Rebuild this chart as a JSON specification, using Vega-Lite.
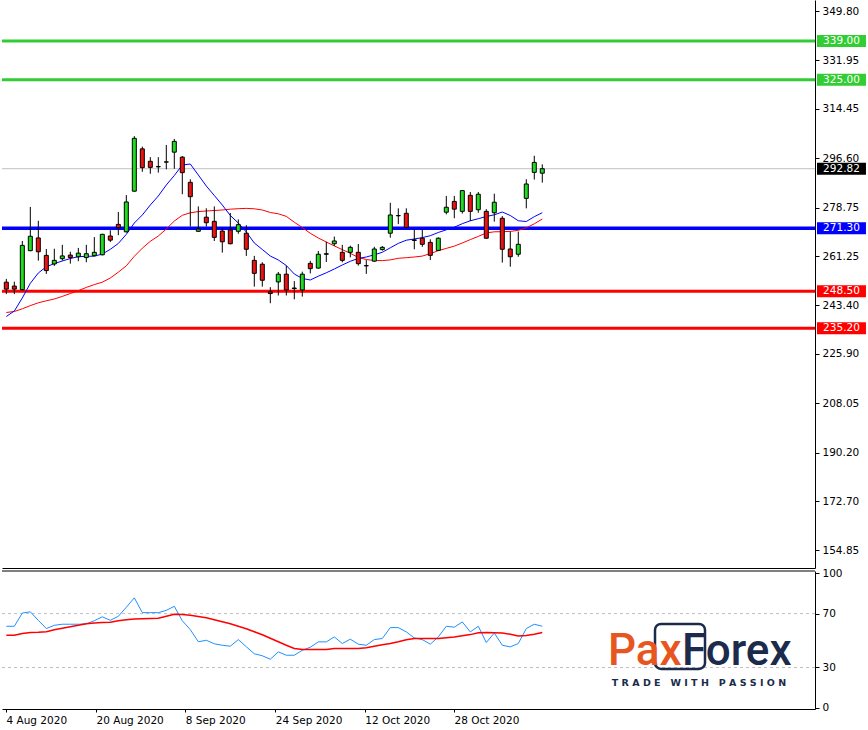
{
  "$schema": "https://vega.github.io/schema/vega-lite/v6.json",
  "padding": 0,
  "spacing": 0,
  "background": "white",
  "config": {
    "view": {"stroke": null},
    "axis": {"grid": false, "labelFont": "DejaVu Sans", "labelFontSize": 10.5, "labelColor": "#000000", "domainColor": "#000000", "tickColor": "#000000", "title": null}
  },
  "datasets": {
    "bars": [
      {"i":0,"date":"2020-08-04","o":251.8,"h":253.0,"l":247.5,"c":249.3,"ma_fast":239.4,"ma_slow":240.85,"rsi":60.6,"rsi_ma":53.9},
      {"i":1,"date":"2020-08-05","o":250.4,"h":252.0,"l":247.5,"c":249.3,"ma_fast":241.39,"ma_slow":241.21,"rsi":60.6,"rsi_ma":53.9},
      {"i":2,"date":"2020-08-06","o":249.1,"h":266.7,"l":248.8,"c":265.1,"ma_fast":246.09,"ma_slow":242.19,"rsi":70.4,"rsi_ma":55.2},
      {"i":3,"date":"2020-08-07","o":263.2,"h":279.0,"l":263.0,"c":268.4,"ma_fast":251.4,"ma_slow":243.34,"rsi":71.3,"rsi_ma":55.9},
      {"i":4,"date":"2020-08-10","o":267.8,"h":274.0,"l":259.6,"c":262.8,"ma_fast":255.13,"ma_slow":244.36,"rsi":65.0,"rsi_ma":56.1},
      {"i":5,"date":"2020-08-11","o":261.5,"h":263.8,"l":254.8,"c":256.0,"ma_fast":257.4,"ma_slow":245.08,"rsi":58.9,"rsi_ma":56.5},
      {"i":6,"date":"2020-08-12","o":258.4,"h":263.9,"l":257.7,"c":259.7,"ma_fast":258.52,"ma_slow":245.73,"rsi":61.3,"rsi_ma":58.0},
      {"i":7,"date":"2020-08-13","o":260.3,"h":265.3,"l":259.6,"c":261.3,"ma_fast":259.46,"ma_slow":246.67,"rsi":62.1,"rsi_ma":59.1},
      {"i":8,"date":"2020-08-14","o":261.6,"h":262.8,"l":258.5,"c":260.7,"ma_fast":260.37,"ma_slow":247.72,"rsi":62.1,"rsi_ma":60.2},
      {"i":9,"date":"2020-08-17","o":261.0,"h":264.2,"l":259.4,"c":262.3,"ma_fast":261.02,"ma_slow":248.73,"rsi":62.1,"rsi_ma":61.3},
      {"i":10,"date":"2020-08-18","o":260.7,"h":265.3,"l":259.0,"c":262.1,"ma_fast":261.16,"ma_slow":249.92,"rsi":62.4,"rsi_ma":62.4},
      {"i":11,"date":"2020-08-19","o":261.4,"h":268.1,"l":261.2,"c":262.6,"ma_fast":261.2,"ma_slow":250.93,"rsi":64.7,"rsi_ma":63.1},
      {"i":12,"date":"2020-08-20","o":261.7,"h":269.3,"l":261.5,"c":269.1,"ma_fast":261.99,"ma_slow":251.8,"rsi":67.6,"rsi_ma":63.3},
      {"i":13,"date":"2020-08-21","o":268.5,"h":270.6,"l":266.3,"c":267.0,"ma_fast":263.69,"ma_slow":253.32,"rsi":65.0,"rsi_ma":63.6},
      {"i":14,"date":"2020-08-24","o":272.7,"h":277.2,"l":268.8,"c":271.5,"ma_fast":265.79,"ma_slow":255.42,"rsi":68.0,"rsi_ma":64.7},
      {"i":15,"date":"2020-08-25","o":270.0,"h":283.3,"l":269.8,"c":280.8,"ma_fast":269.11,"ma_slow":257.73,"rsi":74.7,"rsi_ma":65.4},
      {"i":16,"date":"2020-08-26","o":284.7,"h":304.6,"l":284.5,"c":303.8,"ma_fast":273.2,"ma_slow":261.16,"rsi":81.7,"rsi_ma":65.9},
      {"i":17,"date":"2020-08-27","o":300.0,"h":300.8,"l":291.7,"c":293.2,"ma_fast":276.09,"ma_slow":264.09,"rsi":70.7,"rsi_ma":66.1},
      {"i":18,"date":"2020-08-28","o":295.5,"h":297.0,"l":291.0,"c":293.3,"ma_fast":279.7,"ma_slow":266.58,"rsi":70.7,"rsi_ma":66.4},
      {"i":19,"date":"2020-08-31","o":293.6,"h":297.0,"l":291.4,"c":293.5,"ma_fast":282.96,"ma_slow":268.5,"rsi":70.7,"rsi_ma":66.5},
      {"i":20,"date":"2020-09-01","o":295.2,"h":301.4,"l":292.6,"c":295.3,"ma_fast":286.93,"ma_slow":271.03,"rsi":72.4,"rsi_ma":68.0},
      {"i":21,"date":"2020-09-02","o":298.8,"h":303.6,"l":292.8,"c":302.7,"ma_fast":290.37,"ma_slow":273.92,"rsi":75.4,"rsi_ma":69.5},
      {"i":22,"date":"2020-09-03","o":297.0,"h":297.4,"l":283.6,"c":291.4,"ma_fast":294.16,"ma_slow":275.98,"rsi":64.7,"rsi_ma":69.3},
      {"i":23,"date":"2020-09-04","o":287.9,"h":289.0,"l":271.9,"c":282.7,"ma_fast":294.52,"ma_slow":276.89,"rsi":58.1,"rsi_ma":68.7},
      {"i":24,"date":"2020-09-08","o":270.2,"h":279.2,"l":270.0,"c":271.0,"ma_fast":290.55,"ma_slow":277.32,"rsi":49.1,"rsi_ma":67.8},
      {"i":25,"date":"2020-09-09","o":275.3,"h":278.5,"l":271.9,"c":273.3,"ma_fast":286.57,"ma_slow":277.54,"rsi":50.2,"rsi_ma":66.9},
      {"i":26,"date":"2020-09-10","o":273.8,"h":279.2,"l":266.7,"c":268.0,"ma_fast":283.14,"ma_slow":277.72,"rsi":47.6,"rsi_ma":65.4},
      {"i":27,"date":"2020-09-11","o":270.3,"h":271.3,"l":262.5,"c":266.4,"ma_fast":279.7,"ma_slow":277.9,"rsi":46.5,"rsi_ma":63.9},
      {"i":28,"date":"2020-09-14","o":270.7,"h":276.8,"l":265.5,"c":265.7,"ma_fast":275.91,"ma_slow":278.19,"rsi":45.8,"rsi_ma":62.4},
      {"i":29,"date":"2020-09-15","o":270.2,"h":274.5,"l":269.3,"c":272.6,"ma_fast":273.2,"ma_slow":278.37,"rsi":50.7,"rsi_ma":60.6},
      {"i":30,"date":"2020-09-16","o":269.5,"h":272.4,"l":261.3,"c":263.7,"ma_fast":269.95,"ma_slow":278.48,"rsi":45.4,"rsi_ma":58.7},
      {"i":31,"date":"2020-09-17","o":259.7,"h":261.3,"l":250.2,"c":255.0,"ma_fast":265.97,"ma_slow":278.33,"rsi":40.2,"rsi_ma":56.5},
      {"i":32,"date":"2020-09-18","o":258.3,"h":259.0,"l":250.2,"c":252.5,"ma_fast":263.62,"ma_slow":277.9,"rsi":38.7,"rsi_ma":54.3},
      {"i":33,"date":"2020-09-21","o":248.3,"h":250.0,"l":244.2,"c":247.7,"ma_fast":261.27,"ma_slow":277.0,"rsi":36.1,"rsi_ma":51.7},
      {"i":34,"date":"2020-09-22","o":251.9,"h":255.5,"l":247.0,"c":254.7,"ma_fast":259.83,"ma_slow":276.52,"rsi":41.6,"rsi_ma":49.1},
      {"i":35,"date":"2020-09-23","o":254.7,"h":257.8,"l":247.0,"c":249.0,"ma_fast":257.84,"ma_slow":275.59,"rsi":39.1,"rsi_ma":46.5},
      {"i":36,"date":"2020-09-24","o":249.7,"h":252.2,"l":245.6,"c":249.5,"ma_fast":254.77,"ma_slow":273.49,"rsi":39.1,"rsi_ma":44.1},
      {"i":37,"date":"2020-09-25","o":249.0,"h":255.6,"l":246.6,"c":254.7,"ma_fast":253.14,"ma_slow":271.54,"rsi":42.8,"rsi_ma":43.3},
      {"i":38,"date":"2020-09-28","o":258.6,"h":259.5,"l":255.0,"c":256.7,"ma_fast":252.6,"ma_slow":269.48,"rsi":45.0,"rsi_ma":43.3},
      {"i":39,"date":"2020-09-29","o":256.9,"h":263.1,"l":256.7,"c":261.9,"ma_fast":253.97,"ma_slow":267.78,"rsi":49.0,"rsi_ma":43.3},
      {"i":40,"date":"2020-09-30","o":261.9,"h":266.4,"l":259.1,"c":262.1,"ma_fast":255.2,"ma_slow":266.33,"rsi":49.0,"rsi_ma":43.3},
      {"i":41,"date":"2020-10-01","o":265.7,"h":268.3,"l":264.9,"c":266.7,"ma_fast":256.57,"ma_slow":264.92,"rsi":52.7,"rsi_ma":44.1},
      {"i":42,"date":"2020-10-02","o":262.6,"h":265.3,"l":259.0,"c":259.7,"ma_fast":258.02,"ma_slow":263.58,"rsi":47.8,"rsi_ma":44.1},
      {"i":43,"date":"2020-10-05","o":262.6,"h":265.0,"l":260.8,"c":264.4,"ma_fast":259.36,"ma_slow":262.25,"rsi":51.0,"rsi_ma":44.1},
      {"i":44,"date":"2020-10-06","o":262.6,"h":265.6,"l":257.8,"c":258.5,"ma_fast":260.4,"ma_slow":260.73,"rsi":47.3,"rsi_ma":44.1},
      {"i":45,"date":"2020-10-07","o":257.8,"h":259.8,"l":254.8,"c":257.7,"ma_fast":260.91,"ma_slow":260.01,"rsi":46.5,"rsi_ma":44.7},
      {"i":46,"date":"2020-10-08","o":259.4,"h":264.6,"l":259.2,"c":263.8,"ma_fast":261.71,"ma_slow":259.64,"rsi":50.7,"rsi_ma":45.8},
      {"i":47,"date":"2020-10-09","o":263.6,"h":264.9,"l":263.2,"c":264.4,"ma_fast":262.61,"ma_slow":259.61,"rsi":51.5,"rsi_ma":46.9},
      {"i":48,"date":"2020-10-12","o":269.5,"h":280.5,"l":267.9,"c":276.1,"ma_fast":264.24,"ma_slow":259.86,"rsi":59.6,"rsi_ma":47.8},
      {"i":49,"date":"2020-10-13","o":275.9,"h":278.5,"l":272.8,"c":275.8,"ma_fast":265.83,"ma_slow":260.44,"rsi":59.6,"rsi_ma":49.1},
      {"i":50,"date":"2020-10-14","o":276.7,"h":278.5,"l":271.4,"c":271.6,"ma_fast":266.98,"ma_slow":260.66,"rsi":56.4,"rsi_ma":50.6},
      {"i":51,"date":"2020-10-15","o":267.1,"h":271.0,"l":263.7,"c":266.9,"ma_fast":267.42,"ma_slow":260.91,"rsi":51.9,"rsi_ma":51.5},
      {"i":52,"date":"2020-10-16","o":267.7,"h":271.0,"l":264.6,"c":265.5,"ma_fast":267.92,"ma_slow":261.24,"rsi":50.7,"rsi_ma":51.5},
      {"i":53,"date":"2020-10-19","o":266.2,"h":267.3,"l":259.8,"c":261.5,"ma_fast":268.61,"ma_slow":262.14,"rsi":47.3,"rsi_ma":51.5},
      {"i":54,"date":"2020-10-20","o":263.3,"h":268.0,"l":263.1,"c":267.7,"ma_fast":269.77,"ma_slow":263.19,"rsi":52.7,"rsi_ma":51.5},
      {"i":55,"date":"2020-10-21","o":277.1,"h":283.0,"l":276.3,"c":278.9,"ma_fast":270.74,"ma_slow":264.02,"rsi":60.6,"rsi_ma":52.1},
      {"i":56,"date":"2020-10-22","o":281.0,"h":283.0,"l":274.9,"c":278.2,"ma_fast":271.68,"ma_slow":264.85,"rsi":59.9,"rsi_ma":52.7},
      {"i":57,"date":"2020-10-23","o":277.4,"h":285.0,"l":276.6,"c":284.9,"ma_fast":272.95,"ma_slow":265.97,"rsi":63.8,"rsi_ma":53.6},
      {"i":58,"date":"2020-10-26","o":283.2,"h":284.4,"l":273.9,"c":277.4,"ma_fast":274.0,"ma_slow":267.2,"rsi":56.4,"rsi_ma":54.4},
      {"i":59,"date":"2020-10-27","o":278.0,"h":284.4,"l":276.9,"c":283.6,"ma_fast":274.75,"ma_slow":268.36,"rsi":60.6,"rsi_ma":55.8},
      {"i":60,"date":"2020-10-28","o":277.4,"h":278.2,"l":267.5,"c":267.7,"ma_fast":275.55,"ma_slow":269.58,"rsi":48.5,"rsi_ma":55.9},
      {"i":61,"date":"2020-10-29","o":276.9,"h":283.8,"l":273.7,"c":280.7,"ma_fast":276.16,"ma_slow":270.02,"rsi":55.6,"rsi_ma":55.8},
      {"i":62,"date":"2020-10-30","o":274.9,"h":275.7,"l":258.9,"c":263.7,"ma_fast":277.17,"ma_slow":270.05,"rsi":46.5,"rsi_ma":55.6},
      {"i":63,"date":"2020-11-02","o":263.8,"h":270.1,"l":257.4,"c":261.0,"ma_fast":275.91,"ma_slow":270.16,"rsi":45.3,"rsi_ma":54.7},
      {"i":64,"date":"2020-11-03","o":261.9,"h":270.1,"l":261.0,"c":265.5,"ma_fast":274.0,"ma_slow":270.56,"rsi":47.8,"rsi_ma":53.4},
      {"i":65,"date":"2020-11-04","o":282.1,"h":289.0,"l":278.5,"c":287.3,"ma_fast":273.74,"ma_slow":271.46,"rsi":58.9,"rsi_ma":53.7},
      {"i":66,"date":"2020-11-05","o":291.5,"h":297.5,"l":288.9,"c":295.1,"ma_fast":275.48,"ma_slow":272.91,"rsi":62.1,"rsi_ma":54.7},
      {"i":67,"date":"2020-11-06","o":291.2,"h":294.4,"l":287.8,"c":292.82,"ma_fast":276.92,"ma_slow":274.64,"rsi":60.6,"rsi_ma":55.9}
    ],
    "levels": [
      {"level":339.0,"kind":"resistance"},
      {"level":325.0,"kind":"resistance"},
      {"level":292.82,"kind":"price"},
      {"level":271.3,"kind":"pivot"},
      {"level":248.5,"kind":"support"},
      {"level":235.2,"kind":"support"}
    ],
    "rsiLevels": [{"lvl":70},{"lvl":30}]
  },
  "vconcat": [
    {
      "width": 813,
      "height": 568,
      "layer": [
        {
          "data": {"name": "levels"},
          "mark": {"type": "rule"},
          "encoding": {
            "y": {"field": "level", "type": "quantitative", "scale": {"domain": [148.5, 353.8], "nice": false, "zero": false, "padding": 0},
                  "axis": {"orient": "right", "values": [349.8, 331.95, 314.45, 296.6, 278.75, 261.25, 243.4, 225.9, 208.05, 190.2, 172.7, 154.85], "format": ".2f", "tickSize": 4, "labelPadding": 3, "labelOverlap": false, "labelFlush": false}},
            "stroke": {"field": "kind", "type": "nominal", "scale": {"domain": ["resistance","price","pivot","support"], "range": ["#32cd32","#c0c0c0","#0000ff","#ff0000"]}, "legend": null},
            "strokeWidth": {"condition": [{"test": "datum.kind === 'price'", "value": 1}, {"test": "datum.kind === 'pivot'", "value": 3.5}], "value": 3}
          }
        },
        {
          "data": {"name": "bars"},
          "mark": {"type": "line", "color": "#ff0000", "strokeWidth": 1},
          "encoding": {
            "x": {"field": "i", "type": "quantitative", "scale": {"domain": [-0.54, 101.09], "nice": false, "zero": false, "padding": 0},
                  "axis": {"labels": false, "ticks": false, "domain": true, "minExtent": 0, "maxExtent": 0}},
            "y": {"field": "ma_slow", "type": "quantitative"}
          }
        },
        {
          "data": {"name": "bars"},
          "mark": {"type": "line", "color": "#0000ff", "strokeWidth": 1},
          "encoding": {
            "x": {"field": "i", "type": "quantitative"},
            "y": {"field": "ma_fast", "type": "quantitative"}
          }
        },
        {
          "data": {"name": "bars"},
          "mark": {"type": "rule", "color": "#000000", "strokeWidth": 1},
          "encoding": {
            "x": {"field": "i", "type": "quantitative"},
            "y": {"field": "l", "type": "quantitative"},
            "y2": {"field": "h"}
          }
        },
        {
          "data": {"name": "bars"},
          "mark": {"type": "bar", "orient": "vertical", "width": 4, "stroke": "#000000", "strokeWidth": 1},
          "encoding": {
            "x": {"field": "i", "type": "quantitative"},
            "y": {"field": "o", "type": "quantitative"},
            "y2": {"field": "c"},
            "fill": {"condition": {"test": "datum.c >= datum.o", "value": "#1edc1e"}, "value": "#f01010"}
          }
        },
        {
          "data": {"name": "levels"},
          "mark": {"type": "bar", "orient": "horizontal", "height": 12},
          "encoding": {
            "x": {"datum": 101.34, "type": "quantitative"},
            "x2": {"datum": 107.46},
            "y": {"field": "level", "type": "quantitative"},
            "fill": {"field": "kind", "type": "nominal", "scale": {"domain": ["resistance","price","pivot","support"], "range": ["#32cd32","#000000","#0000ff","#ff0000"]}, "legend": null}
          }
        },
        {
          "data": {"name": "levels"},
          "mark": {"type": "text", "color": "#ffffff", "font": "DejaVu Sans", "fontSize": 10.5, "align": "center", "baseline": "middle"},
          "encoding": {
            "x": {"datum": 104.4, "type": "quantitative"},
            "y": {"field": "level", "type": "quantitative"},
            "text": {"field": "level", "type": "quantitative", "format": ".2f"}
          }
        }
      ]
    },
    {
      "width": 813,
      "height": 138,
      "layer": [
        {
          "data": {"name": "rsiLevels"},
          "mark": {"type": "rule", "color": "#c0c0c0", "strokeWidth": 1, "strokeDash": [3, 3]},
          "encoding": {
            "y": {"field": "lvl", "type": "quantitative", "scale": {"domain": [-0.8, 101.6], "nice": false, "zero": false, "padding": 0},
                  "axis": {"orient": "right", "values": [0, 30, 70, 100], "tickSize": 4, "labelPadding": 3, "labelFlush": true, "labelOverlap": false}}
          }
        },
        {
          "data": {"values": [{}]},
          "mark": {"type": "rule", "color": "#000000", "strokeWidth": 1},
          "encoding": {"y": {"datum": 101.6, "type": "quantitative"}}
        },
        {
          "data": {"name": "bars"},
          "mark": {"type": "line", "color": "#1e90ff", "strokeWidth": 1},
          "encoding": {
            "x": {"field": "i", "type": "quantitative", "scale": {"domain": [-0.54, 101.09], "nice": false, "zero": false, "padding": 0},
                  "axis": {"values": [-0.04, 11.21, 22.375, 33.625, 44.8, 55.96], "labelExpr": "datum.value < 5 ? '4 Aug 2020' : datum.value < 15 ? '20 Aug 2020' : datum.value < 25 ? '8 Sep 2020' : datum.value < 40 ? '24 Sep 2020' : datum.value < 50 ? '12 Oct 2020' : '28 Oct 2020'", "labelAlign": "left", "labelFlush": false, "labelOverlap": false, "labelBound": false, "tickSize": 3, "labelPadding": 3}},
            "y": {"field": "rsi", "type": "quantitative"}
          }
        },
        {
          "data": {"name": "bars"},
          "mark": {"type": "line", "color": "#ff0000", "strokeWidth": 1.5},
          "encoding": {
            "x": {"field": "i", "type": "quantitative"},
            "y": {"field": "rsi_ma", "type": "quantitative"}
          }
        },
        {
          "data": {"values": [{}]},
          "mark": {"type": "rect", "fill": null, "fillOpacity": 0, "stroke": "#1c2b4b", "strokeWidth": 2.5, "cornerRadius": 6},
          "encoding": {
            "x": {"datum": 81.09, "type": "quantitative"},
            "x2": {"datum": 87.34},
            "y": {"datum": 62.3, "type": "quantitative"},
            "y2": {"datum": 28.9}
          }
        },
        {
          "data": {"values": [{"word": "Pax"}]},
          "mark": {"type": "text", "color": "#e8561f", "font": "Roboto", "fontWeight": 500, "fontSize": 44, "align": "left", "baseline": "alphabetic"},
          "encoding": {
            "x": {"datum": 75.2, "type": "quantitative"},
            "y": {"datum": 31.9, "type": "quantitative"},
            "text": {"field": "word"}
          }
        },
        {
          "data": {"values": [{"word": "Forex"}]},
          "mark": {"type": "text", "color": "#1c2b4b", "font": "Roboto", "fontWeight": 500, "fontSize": 44, "align": "left", "baseline": "alphabetic"},
          "encoding": {
            "x": {"datum": 84.46, "type": "quantitative"},
            "y": {"datum": 31.9, "type": "quantitative"},
            "text": {"field": "word"}
          }
        },
        {
          "data": {"values": [{"word": "T R A D E \u00a0 W I T H \u00a0 P A S S I O N"}]},
          "mark": {"type": "text", "color": "#1c2b4b", "font": "DejaVu Sans", "fontWeight": "bold", "fontSize": 9.5, "align": "center", "baseline": "middle"},
          "encoding": {
            "x": {"datum": 86.59, "type": "quantitative"},
            "y": {"datum": 18.7, "type": "quantitative"},
            "text": {"field": "word"}
          }
        }
      ]
    }
  ]
}
